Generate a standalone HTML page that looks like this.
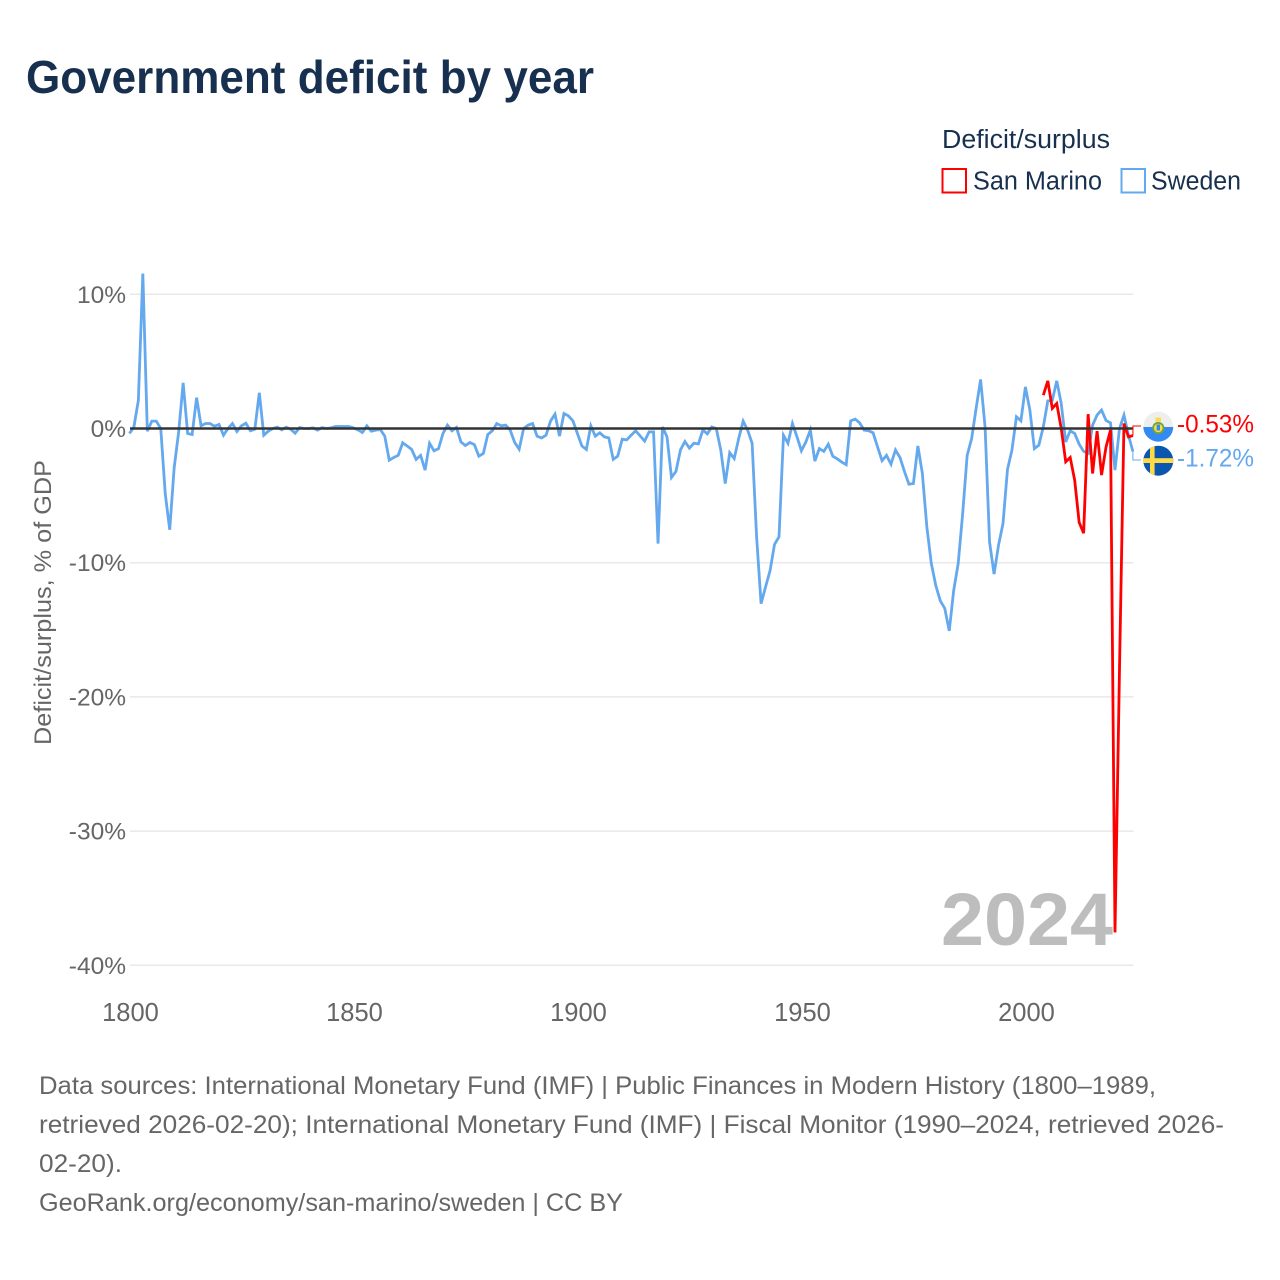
<!DOCTYPE html>
<html lang="en">
<head>
<meta charset="utf-8">
<title>Government deficit by year</title>
<style>
html,body{margin:0;padding:0;background:#fff;width:1280px;height:1280px;overflow:hidden}
svg{display:block}
text{font-family:"Liberation Sans",Arial,sans-serif}
</style>
</head>
<body>
<svg id="chart" xmlns="http://www.w3.org/2000/svg" width="1280" height="1280" viewBox="0 0 1280 1280">
  <rect x="0" y="0" width="1280" height="1280" fill="#fff"/>
  <text x="26" y="93" font-size="46" font-weight="700" fill="#18304f" textLength="568" lengthAdjust="spacingAndGlyphs">Government deficit by year</text>
  <text x="942" y="148" font-size="25.5" fill="#18304f" textLength="168" lengthAdjust="spacingAndGlyphs">Deficit/surplus</text>
  <g>
    <rect x="942.5" y="169" width="23.5" height="23.5" fill="#fff" stroke="#ff0000" stroke-width="2"/>
    <text x="973" y="189.5" font-size="25.5" fill="#18304f" textLength="129" lengthAdjust="spacingAndGlyphs">San Marino</text>
  </g>
  <g>
    <rect x="1121.5" y="169" width="23.5" height="23.5" fill="#fff" stroke="#64a8ee" stroke-width="2"/>
    <text x="1151" y="189.5" font-size="25.5" fill="#18304f" textLength="90" lengthAdjust="spacingAndGlyphs">Sweden</text>
  </g>
  <text transform="translate(51 745) rotate(-90)" x="0" y="0" font-size="24.5" fill="#666" textLength="285" lengthAdjust="spacingAndGlyphs">Deficit/surplus, % of GDP</text>
  <g id="grid"></g>
  <g id="yticks"></g>
  <g id="xticks"></g>
  <text x="941" y="945" font-size="74" font-weight="700" fill="#bdbdbd" textLength="172" lengthAdjust="spacingAndGlyphs">2024</text>
  <g id="series"></g>
  <g id="zero"></g>
  <g id="ends"></g>
  <defs>
    <clipPath id="clip-sm"><circle cx="1158.3" cy="426.7" r="15"/></clipPath>
    <clipPath id="clip-se"><circle cx="1158.3" cy="460.7" r="15"/></clipPath>
  </defs>
  <g clip-path="url(#clip-sm)">
    <rect x="1143" y="411" width="31" height="16" fill="#eeeeee"/>
    <rect x="1143" y="427" width="31" height="16" fill="#338af3"/>
    <rect x="1155.5" y="417.5" width="5.5" height="4" fill="#ffda44"/>
    <circle cx="1158.3" cy="428" r="5.2" fill="#ffda44" stroke="#6da544" stroke-width="1.8"/>
    <rect x="1156.6" y="424.5" width="3.4" height="6" fill="#338af3"/>
  </g>
  <g clip-path="url(#clip-se)">
    <rect x="1143" y="445" width="31" height="31" fill="#0b57b0"/>
    <rect x="1143" y="458.2" width="31" height="4.8" fill="#ffda44"/>
    <rect x="1150" y="445" width="4.6" height="31" fill="#ffda44"/>
  </g>
  <g font-size="25" fill="#666">
    <text x="39" y="1094" textLength="1117" lengthAdjust="spacingAndGlyphs">Data sources: International Monetary Fund (IMF) | Public Finances in Modern History (1800–1989,</text>
    <text x="39" y="1133" textLength="1185" lengthAdjust="spacingAndGlyphs">retrieved 2026-02-20); International Monetary Fund (IMF) | Fiscal Monitor (1990–2024, retrieved 2026-</text>
    <text x="39" y="1172" textLength="83" lengthAdjust="spacingAndGlyphs">02-20).</text>
    <text x="39" y="1211" textLength="584" lengthAdjust="spacingAndGlyphs">GeoRank.org/economy/san-marino/sweden | CC BY</text>
  </g>
</svg>
<script>
const yTickValues = [10, 0, -10, -20, -30, -40];
const yTickLabels = ["10%", "0%", "-10%", "-20%", "-30%", "-40%"];
const xTickYears = [1800, 1850, 1900, 1950, 2000];
const xTickLabels = ["1800", "1850", "1900", "1950", "2000"];

const swedenStartYear = 1800;
const swedenValues = [
  -0.37,0.1,2.1,11.55,-0.2,0.55,0.55,0,-4.85,-7.55,
  -2.9,-0.25,3.4,-0.37,-0.45,2.3,0.2,0.37,0.37,0.17,
  0.3,-0.5,0,0.37,-0.22,0.2,0.4,-0.17,-0.05,2.66,
  -0.5,-0.2,0,0.1,-0.1,0.1,-0.05,-0.35,0.07,0,
  0,0.05,-0.12,0.07,0,0.05,0.15,0.15,0.15,0.15,
  0.05,-0.1,-0.3,0.2,-0.2,-0.12,-0.07,-0.57,-2.36,-2.16,
  -2,-1.07,-1.3,-1.56,-2.3,-2,-3.1,-1.1,-1.66,-1.5,
  -0.37,0.25,-0.17,0.08,-1,-1.27,-1.04,-1.2,-2.06,-1.86,
  -0.45,-0.17,0.37,0.2,0.25,-0.12,-1.04,-1.54,0,0.25,
  0.37,-0.57,-0.7,-0.5,0.55,1.07,-0.57,1.12,0.94,0.57,
  -0.37,-1.3,-1.56,0.2,-0.57,-0.32,-0.62,-0.7,-2.3,-2.06,
  -0.8,-0.85,-0.5,-0.17,-0.55,-0.94,-0.25,-0.25,-8.57,0.12,
  -0.62,-3.65,-3.2,-1.6,-0.97,-1.46,-1.1,-1.15,-0.12,-0.4,
  0.12,0,-1.6,-4.1,-1.8,-2.24,-0.75,0.55,-0.12,-1.1,
  -8.07,-13.05,-11.8,-10.6,-8.64,-8.07,-0.5,-1.1,0.37,-0.6,
  -1.66,-1,-0.12,-2.43,-1.5,-1.7,-1.17,-2.06,-2.26,-2.5,
  -2.7,0.57,0.7,0.42,-0.12,-0.17,-0.32,-1.37,-2.4,-2,
  -2.66,-1.6,-2.16,-3.2,-4.15,-4.1,-1.3,-3.35,-7.33,-10.06,
  -11.7,-12.84,-13.4,-15.08,-12.05,-10.06,-6.33,-2,-0.75,1.5,
  3.65,0.12,-8.45,-10.85,-8.7,-7.08,-3.05,-1.6,0.87,0.57,
  3.1,1.37,-1.5,-1.24,0.12,2.06,2.1,3.55,1.86,-1,
  -0.17,-0.37,-1.17,-1.7,-1.86,0.25,1,1.37,0.6,0.42,
  -3.1,0,1,-0.5,-1.72
];

const sanMarinoStartYear = 2004;
const sanMarinoValues = [
  2.48,3.55,1.5,1.86,0,-2.48,-2.16,-3.85,-7,-7.8,
  1.07,-3.35,-0.2,-3.47,-1.37,-0.12,-37.55,-18,0.37,-0.62,-0.53
];

const NS = 'http://www.w3.org/2000/svg';
const BLUE = '#64a8ee';
const RED = '#ff0000';

function xScale(year) { return 129.4 + (year - 1800) * 4.48; }
function yScale(v) { return 428.5 - v * 13.42; }
function el(parent, tag, attrs, txt) {
  const n = document.createElementNS(NS, tag);
  for (const k in attrs) n.setAttribute(k, attrs[k]);
  if (txt !== undefined) n.textContent = txt;
  parent.appendChild(n);
  return n;
}
function linePath(start, values) {
  return values.map((v, i) => (i ? 'L' : 'M') + xScale(start + i).toFixed(2) + ' ' + yScale(v).toFixed(2)).join(' ');
}

const grid = document.getElementById('grid');
const yticks = document.getElementById('yticks');
const xticks = document.getElementById('xticks');
const series = document.getElementById('series');
const zero = document.getElementById('zero');
const ends = document.getElementById('ends');

yTickValues.forEach((v, i) => {
  if (v !== 0) {
    const g = el(grid, 'line', {x1: 130, x2: 1133.5, y1: yScale(v), y2: yScale(v), stroke: '#e8e8e8', 'stroke-width': 1.5});
    
    
  }
  const t = el(yticks, 'text', {x: 126, y: yScale(v) + 8.5, 'text-anchor': 'end', 'font-size': 24.5, fill: '#666'}, yTickLabels[i]);
  
  
});

xTickYears.forEach((yr, i) => {
  const t = el(xticks, 'text', {x: xScale(yr) + 1.1, y: 1021, 'text-anchor': 'middle', 'font-size': 25.5, fill: '#666'}, xTickLabels[i]);
  
  
});

const swedenLine = el(series, 'path', {d: linePath(swedenStartYear, swedenValues), fill: 'none', stroke: BLUE, 'stroke-width': 2.8, 'stroke-linejoin': 'miter', 'stroke-miterlimit': 4});



const smLine = el(series, 'path', {d: linePath(sanMarinoStartYear, sanMarinoValues), fill: 'none', stroke: RED, 'stroke-width': 2.8, 'stroke-linejoin': 'miter', 'stroke-miterlimit': 4});



const zeroLine = el(zero, 'line', {x1: 130, x2: 1133.5, y1: yScale(0), y2: yScale(0), stroke: '#333', 'stroke-width': 2.6});



const smLast = sanMarinoValues[sanMarinoValues.length - 1];
const seLast = swedenValues[swedenValues.length - 1];
const endX = xScale(2024);

const smConn = el(ends, 'path', {d: 'M' + endX + ' ' + yScale(smLast) + ' V426 H1141', fill: 'none', stroke: RED, 'stroke-width': 1});



const seConn = el(ends, 'path', {d: 'M' + endX + ' ' + yScale(seLast) + ' V460 H1141', fill: 'none', stroke: BLUE, 'stroke-width': 1});



const smLabel = el(ends, 'text', {x: 1177, y: 432.5, 'font-size': 25, fill: RED, textLength: 77, lengthAdjust: 'spacingAndGlyphs'}, smLast.toFixed(2) + '%');



const seLabel = el(ends, 'text', {x: 1177, y: 466.5, 'font-size': 25, fill: BLUE, textLength: 77, lengthAdjust: 'spacingAndGlyphs'}, seLast.toFixed(2) + '%');


</script>
</body>
</html>
